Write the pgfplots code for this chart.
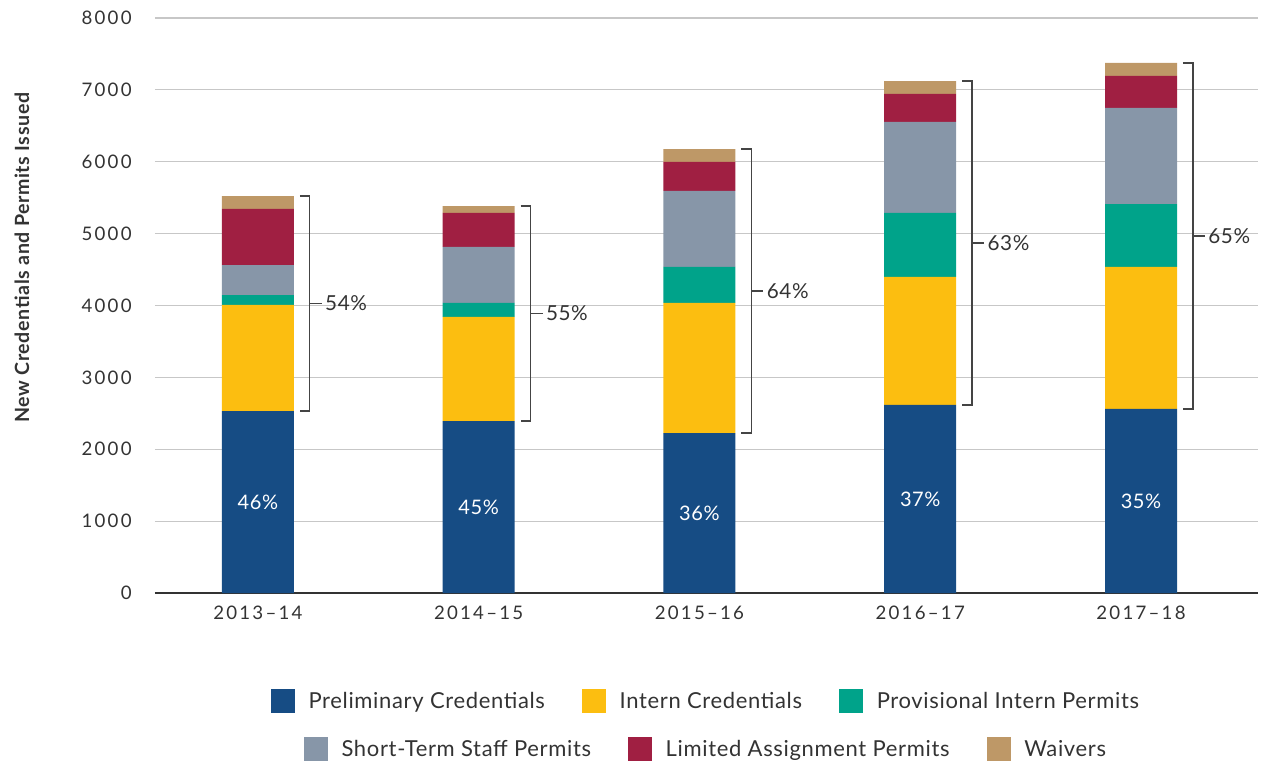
\documentclass[border=0pt]{standalone}
\usepackage{pgfplots}
\pgfplotsset{compat=1.18}
\usepackage{pgfplotstable}
\usepackage{fontspec}
\setmainfont{Lato}[LetterSpace=3]
\newfontfamily\tickfont{Lato}[LetterSpace=12]
\definecolor{cPre}{HTML}{164C84}
\definecolor{cInt}{HTML}{FCBE10}
\definecolor{cProv}{HTML}{00A38A}
\definecolor{cShort}{HTML}{8796A8}
\definecolor{cLim}{HTML}{A01F42}
\definecolor{cWaiv}{HTML}{BE9867}
\definecolor{txt}{HTML}{333333}
\definecolor{brk}{HTML}{444444}
\pgfplotstableread{
x pre int prov short lim waiv
0 2532 1475 139 417 780 180
1 2393 1447 195 779 473 97
2 2226 1809 501 1057 404 180
3 2616 1781 890 1266 390 180
4 2560 1976 876 1336 445 181
}\datatable
\pgfplotsset{
  sq legend/.style={legend image code/.code={\fill[##1] (0pt,-9pt) rectangle (18pt,9pt);}},
  mylegend/.style={
    legend style={draw=none, fill=none, font=\fontsize{16.5}{19}\selectfont, text=txt,
      /tikz/every odd column/.append style={column sep=8pt},
      /tikz/every even column/.append style={column sep=26pt},
      anchor=center},
    legend columns=3,
  }
}
\newcommand{\bracket}[4]{%
  \draw[brk, line width=1pt] (axis cs:#1+0.190,#3) -- (axis cs:#1+0.235,#3) -- (axis cs:#1+0.235,#2) -- (axis cs:#1+0.190,#2);
  \draw[brk, line width=1pt] (axis cs:#1+0.235,{(#2+#3)/2}) -- (axis cs:#1+0.290,{(#2+#3)/2})
    node[right, inner sep=2pt, text=txt, font=\fontsize{15.5}{18}\selectfont] {#4};
}
\newcommand{\pct}[3]{%
  \node[text=white, font=\fontsize{15}{17}\selectfont] at (axis cs:#1,#2) {#3};
}
\begin{document}
\begin{tikzpicture}
\useasboundingbox (-116.25pt,-127.5pt) rectangle (830.25pt,444.75pt);
\begin{axis}[
  scale only axis, width=827.25pt, height=431.25pt,
  ybar stacked, bar width=54pt,
  xmin=-0.466, xmax=4.53, ymin=0, ymax=8000,
  xtick={0,1,2,3,4},
  xticklabels={2013–14,2014–15,2015–16,2016–17,2017–18},
  ytick={0,1000,...,8000},
  separate axis lines,
  axis x line*=bottom, axis y line*=left,
  x axis line style={draw=txt, line width=1pt, -},
  y axis line style={draw=none},
  major tick length=0pt,
  ymajorgrids, grid style={draw=black!22, line width=0.8pt},
  /pgf/number format/assume math mode=true,
  /pgf/number format/set thousands separator={},
  ticklabel style={font=\tickfont\fontsize{14}{16}\selectfont, text=txt},
  yticklabel style={xshift=-14pt},
  xticklabel style={yshift=-6.5pt},
  ylabel={New Credentials and Permits Issued},
  every axis y label/.style={at={(axis description cs:-0.1206,0.583)}, rotate=90, anchor=center,
    font=\bfseries\fontsize{14.7}{17}\selectfont, text=txt},
  mylegend,
  legend style={at={(0.5,-0.1878)}},
]
\addplot[fill=cPre, draw=none, sq legend] table[x=x,y=pre]{\datatable};
\addplot[fill=cInt, draw=none, sq legend] table[x=x,y=int]{\datatable};
\addplot[fill=cProv, draw=none, sq legend] table[x=x,y=prov]{\datatable};
\addplot[fill=cShort, draw=none, sq legend] table[x=x,y=short]{\datatable};
\addplot[fill=cLim, draw=none, sq legend] table[x=x,y=lim]{\datatable};
\addplot[fill=cWaiv, draw=none, sq legend] table[x=x,y=waiv]{\datatable};
\legend{Preliminary Credentials, Intern Credentials, Provisional Intern Permits}
\bracket{0}{2532}{5523}{54\%}
\bracket{1}{2393}{5384}{55\%}
\bracket{2}{2226}{6177}{64\%}
\bracket{3}{2616}{7123}{63\%}
\bracket{4}{2560}{7374}{65\%}
\end{axis}
\begin{axis}[
  scale only axis, width=827.25pt, height=431.25pt,
  hide axis, xmin=-0.466, xmax=4.53, ymin=0, ymax=8000,
  mylegend,
  legend style={at={(0.5,-0.2713)}},
]
\addlegendimage{sq legend, fill=cShort, draw=none}
\addlegendentry{Short-Term Staff Permits}
\addlegendimage{sq legend, fill=cLim, draw=none}
\addlegendentry{Limited Assignment Permits}
\addlegendimage{sq legend, fill=cWaiv, draw=none}
\addlegendentry{Waivers}
\pct{0}{1266}{46\%}
\pct{1}{1196}{45\%}
\pct{2}{1113}{36\%}
\pct{3}{1308}{37\%}
\pct{4}{1280}{35\%}
\end{axis}
\end{tikzpicture}
\end{document}
